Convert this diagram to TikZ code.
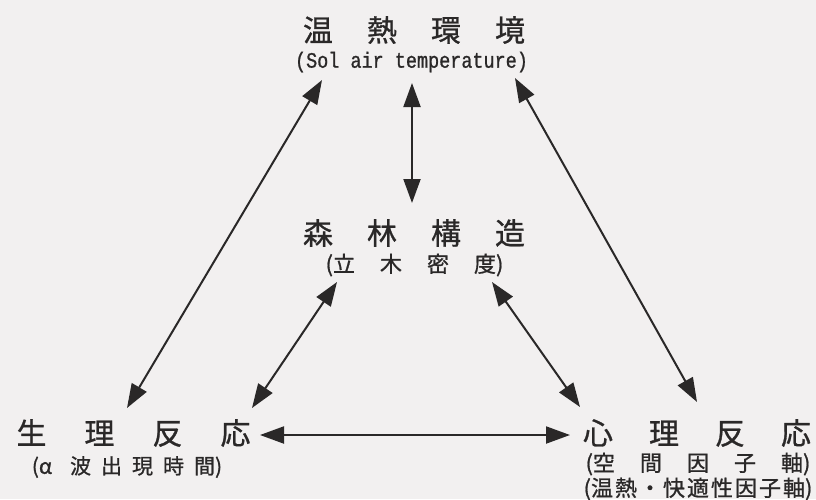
\documentclass[tikz,border=0pt]{standalone}
\usepackage{fontspec}
\usetikzlibrary{arrows.meta}
\newfontfamily\jp[FakeBold=0.9]{Noto Sans CJK JP}
\newfontfamily\monoA[FakeStretch=0.84,FakeBold=0.9]{Liberation Mono}
\definecolor{ink}{HTML}{2A2828}
\definecolor{paper}{HTML}{F2F0F0}
\newcommand\gp[1]{\hspace{#1pt}}
\begin{document}
\begin{tikzpicture}[x=1pt,y=-1pt,
  lbl/.style={inner sep=0pt, text=ink, anchor=center},
  big/.style={lbl, font=\jp\fontsize{30}{30}\selectfont},
  small/.style={lbl, font=\jp\fontsize{22}{22}\selectfont},
  mono/.style={lbl, font=\monoA\fontsize{22}{22}\selectfont},
  link/.style={draw=ink, line width=2pt,
    {Triangle[length=24pt,width=17pt]}-{Triangle[length=24pt,width=17pt]}}]
\fill[paper] (0,0) rectangle (816,499);
\useasboundingbox (0,0) rectangle (816,499);

% texts
\node[big]   (env)    at (414,30)    {温\gp{34}熱\gp{34}環\gp{34}境};
\node[mono]  (envsub) at (411.5,62)  {(Sol air temperature)};
\node[big]   (for)    at (414,233)   {森\gp{34}林\gp{34}構\gp{34}造};
\node[small] (forsub) at (414.5,265) {(立\gp{25}木\gp{25}密\gp{25}度)};
\node[big]   (phy)    at (133.5,433) {生\gp{38}理\gp{38}反\gp{38}応};
\node[small, font=\jp\fontsize{21}{21}\selectfont] (physub) at (127,467) {(α\gp{18}波\gp{10}出\gp{10}現\gp{10}時\gp{10}間)};
\node[big]   (psy)    at (697,433)   {心\gp{36}理\gp{36}反\gp{36}応};
\node[small] (psysubA) at (698,464) {(空\gp{25}間\gp{25}因\gp{25}子\gp{25}軸)};
\node[small] (psysubB) at (698,489) {(温\gp{2}熱\gp{2}・\gp{2}快\gp{2}適\gp{2}性\gp{2}因\gp{2}子\gp{2}軸)};

% connector ends
\coordinate (envL) at (322,80);
\coordinate (envM) at (412,83);
\coordinate (envR) at (515,78);
\coordinate (forT) at (412,203);
\coordinate (forL) at (337,282);
\coordinate (forR) at (492,282);
\coordinate (phyT) at (127,408);
\coordinate (phyM) at (252,408);
\coordinate (phyR) at (260,435);
\coordinate (psyT) at (697,402);
\coordinate (psyM) at (580,407);
\coordinate (psyL) at (570,435);

% connectors
\draw[link] (envL) -- (phyT);
\draw[link] (envM) -- (forT);
\draw[link] (envR) -- (psyT);
\draw[link] (forL) -- (phyM);
\draw[link] (forR) -- (psyM);
\draw[link] (phyR) -- (psyL);
\end{tikzpicture}
\end{document}
